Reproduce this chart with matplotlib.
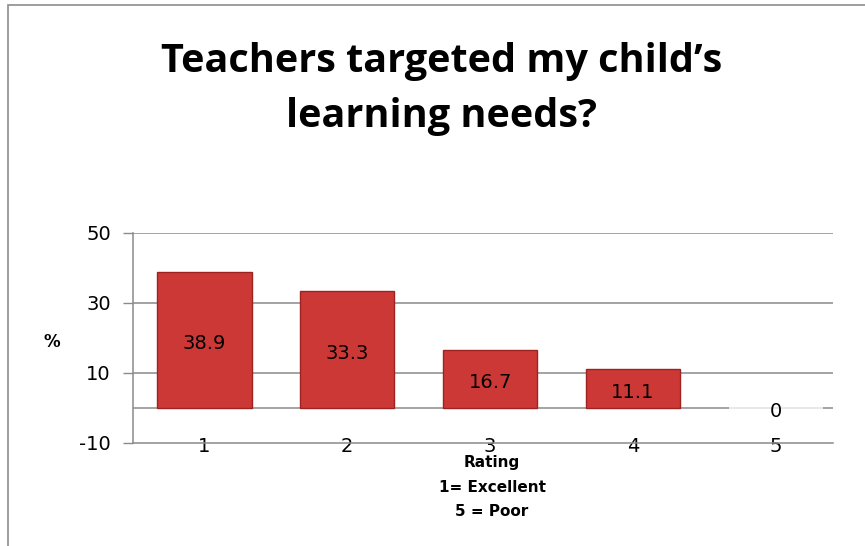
import matplotlib.pyplot as plt
from matplotlib.patches import Rectangle

ratings = ['1', '2', '3', '4', '5']
percent = [38.9, 33.3, 16.7, 11.1, 0]
y_ticks = [-10, 10, 30, 50]

fig = plt.figure(figsize=(8.65, 5.46), dpi=100)

# outer chart frame (cropped on right/bottom like the original)
fig.patches.append(Rectangle((8 / 865, -0.1), 1.2, 1 - 5 / 546 + 0.1,
                             transform=fig.transFigure, fill=False,
                             edgecolor='#8c8c8c', linewidth=1.2))

ax = fig.add_axes([133 / 865, 1 - 443 / 546, 700 / 865, 210 / 546])
ax.set_xlim(-0.5, 4.4)
ax.set_ylim(-10, 50)

for y in [50, 30, 10, 0]:
    ax.axhline(y, color='#8a8a8a', linewidth=1.1, zorder=0)

x = range(len(ratings))
bars = ax.bar(x, percent, width=0.66, color='#cc3836', edgecolor='#9e2220',
              linewidth=1.0, zorder=3)
for b, v in zip(bars, percent):
    if v == 0:
        b.set_linewidth(0)
# faint shadow for the empty bar
ax.bar(4, 0.8, bottom=-0.4, width=0.66, color='#e8e8e8', zorder=2)

for xi, v in zip(x, percent):
    ax.text(xi, v / 2 - 1.0, f'{v:g}', ha='center', va='center',
            fontsize=14, color='black', zorder=4)

ax.set_xticks(list(x))
ax.set_xticklabels(ratings, fontsize=14)
ax.set_yticks(y_ticks)
ax.set_yticklabels([str(t) for t in y_ticks], fontsize=14)
ax.tick_params(axis='x', length=0, pad=-4)
ax.tick_params(axis='y', length=7, width=1, color='#8a8a8a', pad=9,
               direction='out')

for s in ['top', 'right']:
    ax.spines[s].set_visible(False)
ax.spines['left'].set_color('#8a8a8a')
ax.spines['bottom'].set_color('#8a8a8a')
ax.spines['left'].set_linewidth(1.1)
ax.spines['bottom'].set_linewidth(1.1)

fig.text(52 / 865, 1 - 342 / 546, '%', fontsize=12, fontweight='bold',
         ha='center', va='center')

fig.text(442 / 865, 1 - 89 / 546,
         'Teachers targeted my child\u2019s\nlearning needs?',
         fontsize=28.5, fontweight='bold', ha='center', va='center',
         linespacing=1.55, family='Open Sans')

fig.text(492 / 865, 1 - 487 / 546, 'Rating\n1= Excellent\n5 = Poor',
         fontsize=11, fontweight='bold', ha='center', va='center',
         linespacing=1.75)

fig.savefig('out.png', dpi=100)
